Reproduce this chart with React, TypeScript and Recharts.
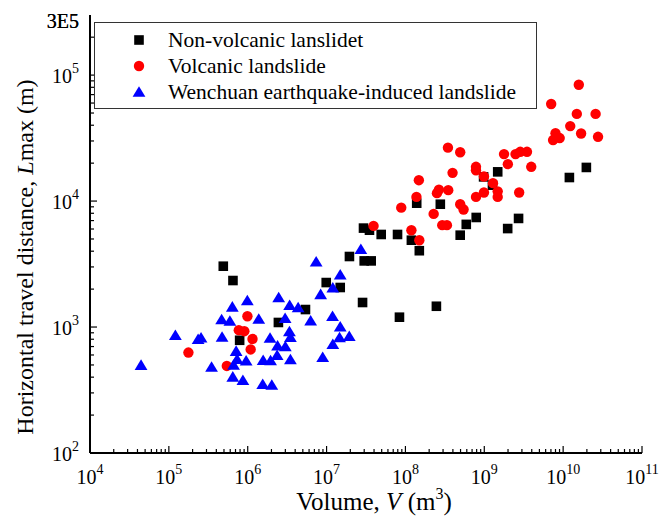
import React from 'react';
import { ScatterChart, Scatter, XAxis, YAxis, Legend } from 'recharts';

const FONT = "'Liberation Serif', 'Times New Roman', 'DejaVu Serif', serif";
const fontStyle = { fontFamily: FONT };

// ---------- data ----------
const nonVolcanicV = [4.9e5, 6.5e5, 7.9e5, 2.45e6, 5.4e6, 9.9e6, 1.49e7, 1.95e7, 2.86e7, 3.0e7, 3.68e7, 2.94e7, 3.5e7, 4.93e7, 7.94e7, 1.19e8, 1.5e8, 8.4e7, 2.47e8, 1.39e8, 2.77e8, 4.95e8, 5.91e8, 7.9e8, 9.8e8, 1.27e9, 1.48e9, 1.98e9, 2.72e9, 1.2e10, 1.97e10];
const nonVolcanicL = [3040, 2340, 785, 1087, 1377, 2255, 2060, 3630, 1566, 3350, 3350, 6100, 5870, 5430, 5430, 4890, 4035, 1197, 1462, 9620, 9440, 5360, 6530, 7410, 15560, 13370, 17060, 6050, 7280, 15380, 18490];

const volcanicV = [1.77e5, 5.43e5, 7.71e5, 9.06e5, 9.91e5, 1.15e6, 1.09e6, 3.94e7, 8.85e7, 1.19e8, 1.38e8, 1.48e8, 1.5e8, 2.28e8, 2.51e8, 2.66e8, 2.93e8, 3.36e8, 3.46e8, 3.49e8, 3.96e8, 4.95e8, 4.95e8, 5.46e8, 7.85e8, 7.85e8, 7.85e8, 9.9e8, 9.9e8, 1.29e9, 1.48e9, 1.48e9, 1.78e9, 1.99e9, 2.49e9, 2.77e9, 2.86e9, 3.48e9, 3.94e9, 7.05e9, 7.45e9, 8.0e9, 9.04e9, 1.23e10, 1.49e10, 1.58e10, 1.69e10, 2.58e10, 2.77e10];
const volcanicL = [627, 491, 944, 927, 1218, 804, 664, 6350, 8870, 5870, 10790, 14650, 4890, 7910, 11560, 12330, 6440, 6440, 26550, 12210, 16750, 24430, 9440, 8570, 18700, 17580, 10790, 15670, 11700, 13870, 11940, 10790, 23600, 19630, 23600, 11700, 24600, 24600, 18700, 59000, 30500, 34600, 31640, 39370, 49200, 83800, 34400, 49200, 32360];

const wenchuanV = [4.44e4, 1.21e5, 2.35e5, 2.56e5, 3.48e5, 4.67e5, 4.73e5, 5.94e5, 6.38e5, 7.13e5, 6.62e5, 6.47e5, 8.69e5, 9.89e5, 7.33e5, 9.55e5, 1.38e6, 1.55e6, 2.02e6, 1.57e6, 1.95e6, 1.92e6, 2.47e6, 2.39e6, 2.36e6, 2.98e6, 3.0e6, 3.4e6, 3.38e6, 3.48e6, 3.48e6, 4.36e6, 6.28e6, 7.38e6, 8.41e6, 8.93e6, 1.2e7, 1.19e7, 1.49e7, 1.49e7, 1.46e7, 1.94e7, 1.2e7, 2.72e7];
const wenchuanL = [498, 861, 800, 822, 482, 1148, 834, 1117, 1445, 644, 500, 402, 378, 1622, 555, 540, 1159, 351, 347, 545, 542, 818, 1718, 710, 597, 1175, 700, 1490, 921, 830, 552, 1429, 1122, 3300, 1815, 576, 2050, 1218, 2600, 1005, 826, 845, 730, 4150];

const seriesNames = ['Non-volcanic lanslidet', 'Volcanic landslide', 'Wenchuan earthquake-induced landslide'];
const seriesColors = ['#000000', '#ff0000', '#0000ff'];

// ---------- ticks ----------
const xLabelValues = [1e4, 1e5, 1e6, 1e7, 1e8, 1e9, 1e10, 1e11];
const xLabelTexts = ['10^4', '10^5', '10^6', '10^7', '10^8', '10^9', '10^10', '10^11'];
const yLabelValues = [1e2, 1e3, 1e4, 1e5, 3e5];
const yLabelTexts = ['10^2', '10^3', '10^4', '10^5', '3E5'];
const minorMultipliers = [2, 3, 4, 5, 6, 7, 8, 9];
const frameTicks = [0, 1, 2, 3, 4, 5, 6, 7, 8, 9, 10];

const xTicks: number[] = [];
xLabelValues.forEach((d, i) => {
  xTicks.push(d);
  if (i < xLabelValues.length - 1) minorMultipliers.forEach((m) => xTicks.push(m * d));
});
const yTicks: number[] = [];
[1e2, 1e3, 1e4, 1e5].forEach((d) => {
  yTicks.push(d);
  minorMultipliers.forEach((m) => {
    if (m * d <= 3e5) yTicks.push(m * d);
  });
});

const toRows = (vs: number[], ls: number[]) => vs.map((v, i) => ({ v, L: ls[i] }));
const nonVolcanic = toRows(nonVolcanicV, nonVolcanicL);
const volcanic = toRows(volcanicV, volcanicL);
const wenchuan = toRows(wenchuanV, wenchuanL);

// ---------- rendering helpers ----------
const PowerText = ({ x, y, text, anchor }: any) => {
  const [base, exp] = String(text).split('^');
  return (
    <text x={x} y={y} textAnchor={anchor} style={fontStyle} fontSize={20} fill="#000">
      {base}
      {exp !== undefined && (
        <tspan dy={-10} fontSize={14}>
          {exp}
        </tspan>
      )}
    </text>
  );
};

const BottomTick = (props: any) => {
  const { x, y, payload } = props;
  const i = xLabelValues.indexOf(payload.value);
  const major = i >= 0;
  return (
    <g>
      <line x1={x} x2={x} y1={y} y2={y - (major ? 7 : 4)} stroke="#000" strokeWidth={1.2} />
      {major && <PowerText x={x} y={y + 31} text={xLabelTexts[i]} anchor="middle" />}
    </g>
  );
};

const LeftTick = (props: any) => {
  const { x, y, payload } = props;
  const i = yLabelValues.indexOf(payload.value);
  const major = i >= 0;
  const isPow = major && yLabelTexts[i].includes('^');
  return (
    <g>
      {payload.value < 3e5 && (
        <line x1={x} x2={x + (major ? 7 : 4)} y1={y} y2={y} stroke="#000" strokeWidth={1.2} />
      )}
      {major && <PowerText x={x - 11} y={y + (isPow ? 8 : 13)} text={yLabelTexts[i]} anchor="end" />}
    </g>
  );
};

const TopTick = (props: any) => {
  const { x, y } = props;
  return <line x1={x} x2={x} y1={y} y2={y + 4} stroke="#222" strokeWidth={1.2} />;
};

const RightTick = (props: any) => {
  const { x, y } = props;
  return <line x1={x} x2={x - 4} y1={y} y2={y} stroke="#222" strokeWidth={1.2} />;
};

const SquareShape = (p: any) => (
  <rect x={p.cx - 4.8} y={p.cy - 4.8} width={9.6} height={9.6} fill={seriesColors[0]} />
);
const CircleShape = (p: any) => <circle cx={p.cx} cy={p.cy} r={5.2} fill={seriesColors[1]} />;
const TriangleShape = (p: any) => (
  <polygon
    points={`${p.cx},${p.cy - 5.8} ${p.cx - 6.4},${p.cy + 4.8} ${p.cx + 6.4},${p.cy + 4.8}`}
    fill={seriesColors[2]}
  />
);

const XTitle = () => (
  <text x={374} y={510} textAnchor="middle" style={fontStyle} fontSize={25} fill="#000">
    Volume, <tspan fontStyle="italic">V</tspan> (m
    <tspan dy={-11} fontSize={16}>
      3
    </tspan>
    <tspan dy={11}>)</tspan>
  </text>
);

const YTitle = () => (
  <text
    x={33}
    y={257}
    transform="rotate(-90, 33, 257)"
    textAnchor="middle"
    style={fontStyle}
    fontSize={24}
    fill="#000"
  >
    Horizontal travel distance, <tspan fontStyle="italic">L</tspan>max (m)
  </text>
);

const LegendBox = () => {
  const rowY = [18, 44, 70];
  return (
    <svg width={443} height={87} style={{ display: 'block' }}>
      <rect x={0.5} y={0.5} width={442} height={86} fill="#fff" stroke="#333" strokeWidth={1} />
      <rect x={45 - 4.8} y={rowY[0] - 4.8} width={9.6} height={9.6} fill={seriesColors[0]} />
      <circle cx={45} cy={rowY[1]} r={5.2} fill={seriesColors[1]} />
      <polygon
        points={`45,${rowY[2] - 5.8} ${45 - 6.4},${rowY[2] + 4.8} ${45 + 6.4},${rowY[2] + 4.8}`}
        fill={seriesColors[2]}
      />
      {seriesNames.map((n, i) => (
        <text key={n} x={74} y={rowY[i] + 6.5} style={fontStyle} fontSize={21.5} fill="#000">
          {n}
        </text>
      ))}
    </svg>
  );
};

export default function App() {
  return (
    <div style={{ position: 'absolute', left: 0, top: 0, width: 659, height: 524, background: '#fff', fontFamily: FONT }}>
      <ScatterChart width={659} height={524} margin={{ top: 15, right: 17, bottom: 0, left: 0 }} style={fontStyle}>
        <XAxis
          xAxisId="main"
          dataKey="v"
          type="number"
          scale="log"
          domain={[1e4, 1e11]}
          allowDataOverflow
          ticks={xTicks}
          interval={0}
          tickSize={0}
          tickMargin={0}
          tickLine={false}
          tick={<BottomTick />}
          axisLine={{ stroke: '#000', strokeWidth: 2 }}
          height={71}
          label={<XTitle />}
        />
        <YAxis
          yAxisId="main"
          dataKey="L"
          type="number"
          scale="log"
          domain={[1e2, 3e5]}
          allowDataOverflow
          ticks={yTicks.concat([3e5])}
          interval={0}
          tickSize={0}
          tickMargin={0}
          tickLine={false}
          tick={<LeftTick />}
          axisLine={{ stroke: '#000', strokeWidth: 2 }}
          width={90}
          label={<YTitle />}
        />
        <XAxis
          xAxisId="top"
          orientation="top"
          dataKey="v"
          type="number"
          domain={[0, 10]}
          ticks={frameTicks}
          interval={0}
          tickSize={0}
          tickMargin={0}
          tickLine={false}
          tick={<TopTick />}
          axisLine={{ stroke: '#222', strokeWidth: 1.5 }}
          height={0}
        />
        <YAxis
          yAxisId="right"
          orientation="right"
          dataKey="L"
          type="number"
          domain={[0, 10]}
          ticks={frameTicks}
          interval={0}
          tickSize={0}
          tickMargin={0}
          tickLine={false}
          tick={<RightTick />}
          axisLine={{ stroke: '#222', strokeWidth: 1.5 }}
          width={0}
        />
        <Scatter xAxisId="top" yAxisId="right" data={[]} isAnimationActive={false} legendType="none" />
        <Scatter
          xAxisId="main"
          yAxisId="main"
          name={seriesNames[0]}
          data={nonVolcanic}
          shape={SquareShape}
          isAnimationActive={false}
        />
        <Scatter
          xAxisId="main"
          yAxisId="main"
          name={seriesNames[1]}
          data={volcanic}
          shape={CircleShape}
          isAnimationActive={false}
        />
        <Scatter
          xAxisId="main"
          yAxisId="main"
          name={seriesNames[2]}
          data={wenchuan}
          shape={TriangleShape}
          isAnimationActive={false}
        />
        <Legend
          layout="vertical"
          verticalAlign="middle"
          align="center"
          wrapperStyle={{ position: 'absolute', left: 94, top: 22, width: 443, height: 87 }}
          content={() => <LegendBox />}
        />
      </ScatterChart>
    </div>
  );
}
